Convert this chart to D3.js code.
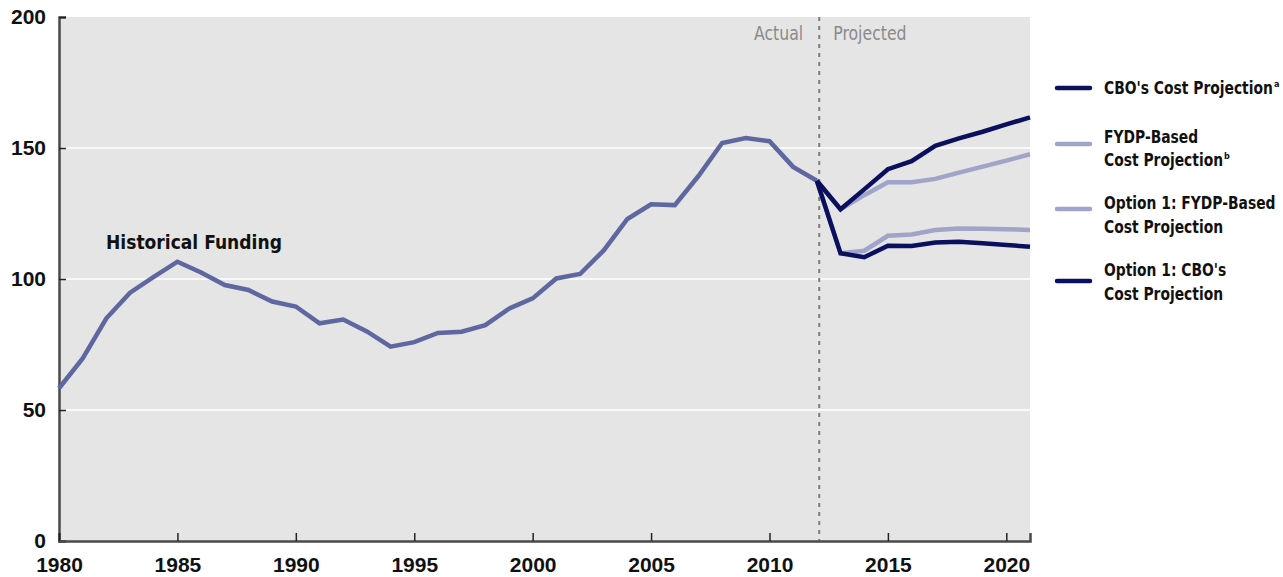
<!DOCTYPE html>
<html>
<head>
<meta charset="utf-8">
<script src="https://cdn.jsdelivr.net/npm/d3@7"></script>
<style>
  html, body { margin: 0; padding: 0; background: #fff; }
  svg { display: block; }
  text { font-family: "DejaVu Sans Condensed", "Liberation Sans", sans-serif; }
</style>
</head>
<body>
<svg id="chart" width="1283" height="577"></svg>
<script>
// ---- Data ----
const histYears = [1980,1981,1982,1983,1984,1985,1986,1987,1988,1989,1990,1991,1992,1993,1994,1995,1996,1997,1998,1999,2000,2001,2002,2003,2004,2005,2006,2007,2008,2009,2010,2011,2012];
const histValues = [58.3,69.7,85.0,94.8,100.8,106.6,102.5,97.7,95.8,91.4,89.5,83.1,84.5,80.0,74.2,75.9,79.4,79.9,82.4,88.7,92.6,100.2,101.9,110.9,122.9,128.5,128.2,139.3,151.9,153.8,152.6,142.8,137.5];
const projYears = [2012,2013,2014,2015,2016,2017,2018,2019,2020,2021];
const cboValues = [137.5,126.6,134.2,141.9,145.0,150.8,153.7,156.2,159.0,161.7];
const fydpValues = [137.5,126.6,132.0,136.9,136.9,138.2,140.6,142.9,145.2,147.6];
const opt1FydpValues = [137.5,109.8,110.8,116.5,117.0,118.7,119.3,119.2,119.0,118.7];
const opt1CboValues = [137.5,109.8,108.3,112.7,112.6,113.9,114.2,113.6,113.0,112.3];
const yTicks = [0,50,100,150,200];
const xTicks = [1980,1985,1990,1995,2000,2005,2010,2015,2020];
const legendItems = [
  {lines:["CBO's Cost Projection"], sup:"a", key:"dark"},
  {lines:["FYDP-Based","Cost Projection"], sup:"b", key:"light"},
  {lines:["Option 1: FYDP-Based","Cost Projection"], sup:"", key:"light"},
  {lines:["Option 1: CBO's","Cost Projection"], sup:"", key:"dark"}
];
const dividerYear = 2012.1;

// ---- Styles ----
const colors = { hist: "#5f67a1", dark: "#0a105e", light: "#a0a4c8" };
const plot = { left: 59, right: 1030, top: 17, bottom: 541 };

const svg = d3.select("#chart");
const x = d3.scaleLinear().domain([1980, 2021]).range([plot.left, plot.right]);
const y = d3.scaleLinear().domain([0, 200]).range([plot.bottom, plot.top]);

// horizontally condensed text (emulates a narrow typeface); returns drawn width
function narrowText(parent, str, px, py, size, factor, attrs) {
  const g = parent.append("g").attr("transform", `translate(${px},${py}) scale(${factor},1)`);
  const t = g.append("text").attr("x", 0).attr("y", 0).attr("font-size", size).text(str);
  Object.entries(attrs || {}).forEach(([k, v]) => t.attr(k, v));
  return t;
}

// background
svg.append("rect")
  .attr("x", plot.left).attr("y", plot.top)
  .attr("width", plot.right - plot.left).attr("height", plot.bottom - plot.top)
  .attr("fill", "#e5e5e5");

// gridlines
svg.append("g").selectAll("line").data(yTicks.filter(d => d > 0 && d < 200)).join("line")
  .attr("x1", plot.left).attr("x2", plot.right)
  .attr("y1", d => y(d)).attr("y2", d => y(d))
  .attr("stroke", "#ffffff").attr("stroke-width", 1.5);

// divider
svg.append("line")
  .attr("x1", x(dividerYear)).attr("x2", x(dividerYear))
  .attr("y1", plot.top).attr("y2", plot.bottom)
  .attr("stroke", "#7f7f7f").attr("stroke-width", 2)
  .attr("stroke-dasharray", "4,5");

narrowText(svg, "Actual", x(dividerYear) - 16, 40, 19, 0.92,
  {"text-anchor": "end", "fill": "#8a8a8a"});
narrowText(svg, "Projected", x(dividerYear) + 14, 40, 19, 0.92,
  {"text-anchor": "start", "fill": "#8a8a8a"});

// axes
const yAxis = d3.axisLeft(y).tickValues(yTicks).tickSize(-7).tickPadding(13).tickFormat(d3.format("d"));
const gy = svg.append("g").attr("transform", `translate(${plot.left},0)`).call(yAxis);
const xAxis = d3.axisBottom(x).tickValues(xTicks).tickSize(-8).tickPadding(16).tickFormat(d3.format("d"));
const gx = svg.append("g").attr("transform", `translate(0,${plot.bottom})`).call(xAxis);
[gx, gy].forEach(g => {
  g.select(".domain").attr("stroke", "#4a4a4a").attr("stroke-width", 2.5);
  g.selectAll(".tick line").attr("stroke", "#222").attr("stroke-width", 1.5);
  g.selectAll(".tick text").attr("fill", "#111").attr("font-size", 21).attr("font-weight", "bold")
    .style("font-family", '"Liberation Sans", sans-serif');
});
gx.selectAll(".tick text").attr("dy", "0.71em");

// lines
const line = d3.line().x(d => x(d[0])).y(d => y(d[1]));
function draw(years, vals, color) {
  svg.append("path").datum(years.map((yr, i) => [yr, vals[i]]))
    .attr("d", line).attr("fill", "none").attr("stroke", color)
    .attr("stroke-width", 4.5).attr("stroke-linejoin", "miter");
}
draw(histYears, histValues, colors.hist);
draw(projYears, fydpValues, colors.light);
draw(projYears, opt1FydpValues, colors.light);
draw(projYears, cboValues, colors.dark);
draw(projYears, opt1CboValues, colors.dark);

// "Historical Funding" label, condensed to the reference width
{
  const probe = svg.append("text").attr("font-size", 20).attr("font-weight", "bold").text("Historical Funding");
  const f = 176 / probe.node().getComputedTextLength();
  probe.remove();
  narrowText(svg, "Historical Funding", 106, 249, 20, f, {"font-weight": "bold", "fill": "#111"});
}

// legend
const legY = [88, 144, 209, 281];
const legText = [[94], [143, 166], [209, 233], [276, 300]];
const probe = svg.append("text").attr("font-size", 17).attr("font-weight", "bold").text(legendItems[0].lines[0]);
const legFactor = 169 / probe.node().getComputedTextLength();
probe.remove();
legendItems.forEach((it, i) => {
  svg.append("line").attr("x1", 1057).attr("x2", 1090)
    .attr("y1", legY[i]).attr("y2", legY[i])
    .attr("stroke", colors[it.key]).attr("stroke-width", 4.5).attr("stroke-linecap", "round");
  it.lines.forEach((t, j) => {
    const tx = narrowText(svg, t, 1104, legText[i][j], 17, legFactor, {"font-weight": "bold", "fill": "#111"});
    if (j === it.lines.length - 1 && it.sup) {
      const w = tx.node().getComputedTextLength() * legFactor;
      svg.append("text")
        .attr("x", 1104 + w + 1)
        .attr("y", legText[i][j] - 7)
        .attr("font-size", 9).attr("font-weight", "bold").attr("fill", "#111").text(it.sup);
    }
  });
});
</script>
</body>
</html>
